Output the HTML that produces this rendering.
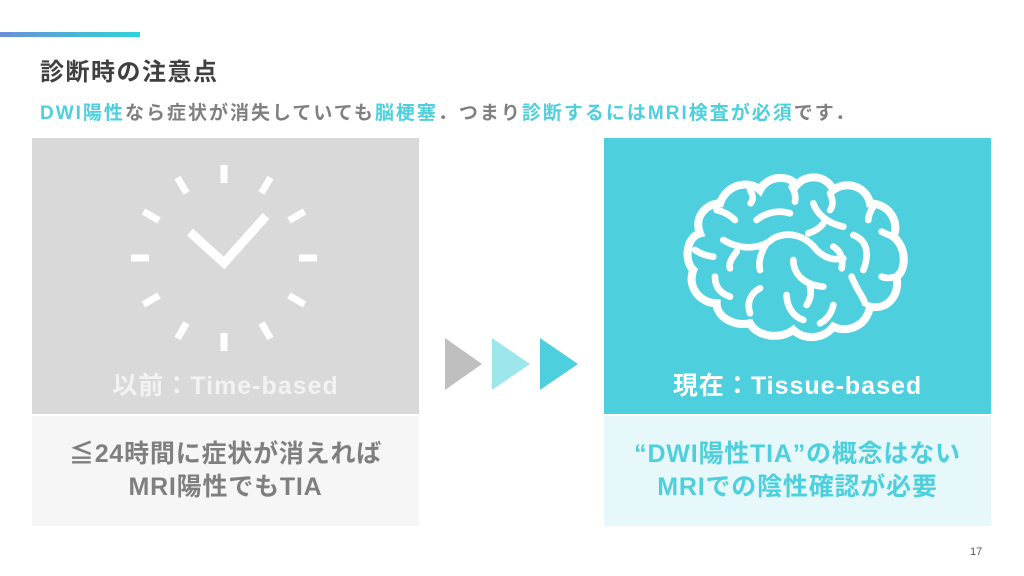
<!DOCTYPE html>
<html><head><meta charset="utf-8"><style>
*{margin:0;padding:0;box-sizing:border-box}
body{width:1024px;height:576px;background:#fff;position:relative;overflow:hidden;font-family:"Liberation Sans","Noto Sans CJK JP",sans-serif;font-weight:bold}
.abs{position:absolute}
.t{color:#4ecfdd}
</style></head><body>
<div class="abs" style="left:0;top:32px;width:140px;height:5px;background:linear-gradient(90deg,#6a8fd8,#2fd3d8)"></div>
<div class="abs" style="left:40px;top:52px;font-size:24px;letter-spacing:1.5px;color:#404040">診断時の注意点</div>
<div class="abs" style="left:40px;top:98px;font-size:19px;letter-spacing:2px;color:#808080;white-space:nowrap"><span class="t">DWI陽性</span>なら症状が消失していても<span class="t">脳梗塞</span>．つまり<span class="t">診断するにはMRI検査が必須</span>です．</div>

<div class="abs" style="left:32px;top:138px;width:387px;height:276px;background:#d9d9d9"></div>
<div class="abs" style="left:32px;top:416px;width:387px;height:110px;background:#f6f6f6"></div>
<div class="abs" style="left:604px;top:138px;width:387px;height:276px;background:#4ecfdd"></div>
<div class="abs" style="left:604px;top:416px;width:387px;height:110px;background:#e6f8f9"></div>

<svg class="abs" style="left:0;top:0" width="1024" height="576">
<g stroke="#fff" stroke-width="7" stroke-linecap="butt" fill="none">
<g transform="translate(224,258)">
<line x1="0" y1="-93" x2="0" y2="-75"/>
<line x1="0" y1="93" x2="0" y2="75"/>
<line x1="-93" y1="0" x2="-75" y2="0"/>
<line x1="93" y1="0" x2="75" y2="0"/>
<g transform="rotate(30)"><line x1="0" y1="-93" x2="0" y2="-75"/><line x1="0" y1="93" x2="0" y2="75"/></g>
<g transform="rotate(60)"><line x1="0" y1="-93" x2="0" y2="-75"/><line x1="0" y1="93" x2="0" y2="75"/></g>
<g transform="rotate(120)"><line x1="0" y1="-93" x2="0" y2="-75"/><line x1="0" y1="93" x2="0" y2="75"/></g>
<g transform="rotate(150)"><line x1="0" y1="-93" x2="0" y2="-75"/><line x1="0" y1="93" x2="0" y2="75"/></g>
<polyline points="-34,-26 0,5 42,-42" stroke-width="9"/>
</g>
<g stroke-width="8" stroke-linecap="round" transform="translate(660,170) scale(0.3333)">
<path d="M180,100 C200,40 270,30 300,60 C320,20 380,10 410,45 C440,10 500,15 520,60 C560,30 620,50 630,100 C690,100 720,160 700,200 C740,230 740,300 710,320 C720,380 680,420 630,410 C620,470 560,490 520,470 C490,510 430,510 400,480 C360,510 290,500 270,460 C220,470 170,440 170,400 C120,400 80,350 100,300 C70,270 80,200 120,190 C100,140 140,100 180,100 Z" stroke-width="24"/>
<g stroke-width="20">
<path d="M190,210 C240,240 300,240 340,205 C390,180 440,200 470,240 C500,270 530,270 550,265"/>
<path d="M520,230 C545,245 550,270 545,295"/>
<path d="M230,245 C215,265 205,280 210,295"/>
<path d="M320,220 C300,250 295,280 300,300"/>
<path d="M400,270 C400,310 430,345 490,350"/>
<path d="M450,350 C455,370 450,390 440,405"/>
<path d="M290,150 C320,125 360,120 390,130"/>
<path d="M460,100 C470,130 500,160 550,170"/>
<path d="M490,160 C480,175 460,185 445,190"/>
<path d="M580,195 C620,210 630,250 610,300"/>
<path d="M575,320 C590,360 610,380 615,400"/>
<path d="M380,375 C380,410 400,440 430,450"/>
<path d="M520,405 C515,430 500,450 480,460"/>
<path d="M300,355 C270,370 260,400 270,430"/>
<path d="M165,320 C165,350 180,370 210,380"/>
<path d="M105,240 C120,250 140,258 160,260"/>
<path d="M170,120 C190,125 210,135 225,150"/>
<path d="M270,60 C280,75 280,90 272,100"/>
<path d="M395,50 C405,65 408,80 405,95"/>
<path d="M510,70 C520,90 520,110 510,120"/>
<path d="M640,110 C630,125 625,140 625,150"/>
<path d="M700,200 C685,195 675,190 665,185"/>
<path d="M710,320 C690,325 675,325 665,320"/>
</g>
</g>
</g>
<polygon points="445,338 482,364 445,390" fill="#bfbfbf"/>
<polygon points="492,338 530,364 492,390" fill="#9de6ec"/>
<polygon points="540,338 578,364 540,390" fill="#4ecfdd"/>
</svg>

<div class="abs" style="left:32px;top:366px;width:387px;text-align:center;font-size:25px;letter-spacing:1px;color:#f2f2f2">以前：Time-based</div>
<div class="abs" style="left:604px;top:366px;width:387px;text-align:center;font-size:25px;letter-spacing:1px;color:#fff">現在：Tissue-based</div>
<div class="abs" style="left:32px;top:438px;width:387px;text-align:center;font-size:25px;letter-spacing:0.8px;line-height:33px;color:#7f7f7f">≦24時間に症状が消えれば<br>MRI陽性でもTIA</div>
<div class="abs" style="left:604px;top:438px;width:387px;text-align:center;font-size:25px;letter-spacing:0.8px;line-height:33px;color:#4ecfdd">“DWI陽性TIA”の概念はない<br>MRIでの陰性確認が必要</div>
<div class="abs" style="left:970px;top:546px;font-size:11px;font-weight:normal;color:#595959">17</div>
</body></html>
